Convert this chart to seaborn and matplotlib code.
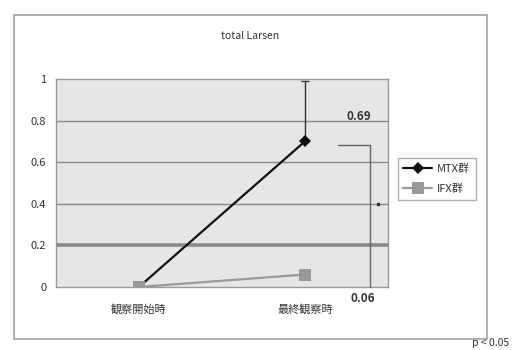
import matplotlib
matplotlib.use("Agg")
import matplotlib.pyplot as plt
import seaborn as sns
import pandas as pd
from matplotlib.patches import Rectangle

categories = ["観察開始時", "最終観察時"]
series_names = ["MTX群", "IFX群"]
mtx_values = [0.0, 0.70]
ifx_values = [0.0, 0.06]
mtx_err_upper = [0.0, 0.29]
y_ticks = [0, 0.2, 0.4, 0.6, 0.8, 1]
y_tick_labels = ["0", "0.2", "0.4", "0.6", "0.8", "1"]
title = "total Larsen"
label_high = "0.69"
label_low = "0.06"
p_text = "p < 0.05"

sns.set_theme(style="white")
plt.rcParams['font.family'] = ['Noto Sans CJK JP', 'DejaVu Sans']

df = pd.DataFrame({
    "time": categories * 2,
    "value": mtx_values + ifx_values,
    "group": [series_names[0]] * 2 + [series_names[1]] * 2,
})

fig = plt.figure(figsize=(5.32, 3.5), dpi=100)
ax = fig.add_axes([0.105, 0.18, 0.624, 0.594])
ax.set_facecolor("#e6e6e6")

# outer chart frame
fig.patches.append(Rectangle((0.026, 0.031), 0.89, 0.926, transform=fig.transFigure,
                             fill=False, edgecolor="#a0a0a0", lw=1.2))

for yv in y_ticks[1:-1]:
    ax.axhline(yv, color="#8a8a8a", lw=2.6 if yv == 0.2 else 1.0, zorder=1)

palette = {series_names[0]: "#111111", series_names[1]: "#999999"}
markers = {series_names[0]: "D", series_names[1]: "s"}
sns.lineplot(data=df, x="time", y="value", hue="group", style="group",
             palette=palette, markers=markers, dashes=False, markersize=7,
             markeredgewidth=0, lw=1.6, ax=ax, zorder=3, legend=True)
for line in ax.lines:
    if line.get_color() == "#999999":
        line.set_markersize(9)
    else:
        line.set_markersize(6)

ax.errorbar([1], [mtx_values[1]], yerr=[[0], [mtx_err_upper[1]]], fmt="none",
            ecolor="#333333", elinewidth=1.0, capsize=3, capthick=1.0, zorder=2)

ax.set_xlim(-0.5, 1.5)
ax.set_ylim(0, 1)
ax.set_yticks(y_ticks)
ax.set_yticklabels(y_tick_labels)
ax.set_xlabel("")
ax.set_ylabel("")
ax.tick_params(axis="both", labelsize=8, colors="#333333", length=0, pad=7)
ax.tick_params(axis="x", pad=12)
for s in ax.spines.values():
    s.set_color("#999999")
    s.set_linewidth(1.0)

fig.text(0.47, 0.897, title, ha="center", va="center", fontsize=7.5, color="#333333")

# significance bracket
ax.plot([1.2, 1.39, 1.39], [0.683, 0.683, 0.0], color="#666666", lw=1.0,
        clip_on=False, zorder=4)
ax.plot([1.44], [0.40], marker="s", color="#333333", markersize=2, clip_on=False)
ax.text(1.325, 0.82, label_high, ha="center", va="center", fontsize=8.5,
        fontweight="bold", color="#333333")
ax.text(1.352, -0.055, label_low, ha="center", va="center", fontsize=8.5,
        fontweight="bold", color="#333333", clip_on=False)
fig.text(0.887, 0.02, p_text, ha="left", va="center", fontsize=7.5, color="#333333")

handles, labels = ax.get_legend_handles_labels()
leg = ax.legend(handles, labels, loc="upper left", bbox_to_anchor=(0.748, 0.55),
                bbox_transform=fig.transFigure, fontsize=8, frameon=True,
                fancybox=False, edgecolor="#999999", borderpad=0.5,
                handlelength=2.6, labelspacing=0.9, borderaxespad=0,
                handletextpad=0.4)
leg.get_frame().set_linewidth(1.0)
for t in leg.get_texts():
    t.set_color("#333333")

fig.savefig("out.png", dpi=100)
